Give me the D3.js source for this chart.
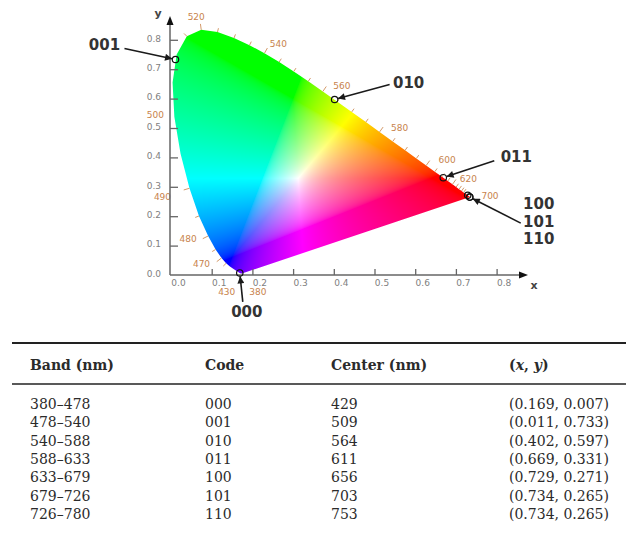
<!DOCTYPE html>
<html lang="en">
<head>
<meta charset="UTF-8">
<title>CIE 1931 chromaticity band codes</title>
<script src="https://d3js.org/d3.v7.min.js"></script>
<style>
  body { margin: 0; background: #fff; }
  svg { display: block; }
  .tick text { font-family: "DejaVu Sans", sans-serif; font-size: 9px; fill: #808080; }
  .tick line { stroke: #666; stroke-width: 1.3px; }
  .wl-label { font-family: "DejaVu Sans", sans-serif; font-size: 9px; fill: #c8834c; }
  .wl-tick { stroke: #d49a6a; stroke-width: 1px; }
  .code-label { font-family: "DejaVu Sans", sans-serif; font-size: 15px; font-weight: bold; fill: #333; }
  .axis-name { font-family: "DejaVu Sans", sans-serif; font-size: 11px; font-weight: bold; fill: #444; }
  .tbl { font-family: "DejaVu Serif", serif; font-size: 14px; fill: #2b2b2b; }
  .tbl-head { font-weight: bold; }
</style>
</head>
<body>
<div id="chart"></div>
<script>
// spectral locus (CIE 1931 2 deg), every 5 nm
const locusNm = [380,385,390,395,400,405,410,415,420,425,430,435,440,445,450,455,460,465,470,475,
                 480,485,490,495,500,505,510,515,520,525,530,535,540,545,550,555,560,565,570,575,
                 580,585,590,595,600,605,610,615,620,625,630,635,640,645,650,655,660,665,670,675,
                 680,690,700];
const locusX = [0.1741,0.1740,0.1738,0.1736,0.1733,0.1730,0.1726,0.1721,0.1714,0.1703,0.1689,0.1669,0.1644,0.1611,0.1566,0.1510,0.1440,0.1355,0.1241,0.1096,
                0.0913,0.0687,0.0454,0.0235,0.0082,0.0039,0.0139,0.0389,0.0743,0.1142,0.1547,0.1929,0.2296,0.2658,0.3016,0.3373,0.3731,0.4087,0.4441,0.4788,
                0.5125,0.5448,0.5752,0.6029,0.6270,0.6482,0.6658,0.6801,0.6915,0.7006,0.7079,0.7140,0.7190,0.7230,0.7260,0.7283,0.7300,0.7311,0.7320,0.7327,
                0.7334,0.7344,0.7347];
const locusY = [0.0050,0.0050,0.0049,0.0049,0.0048,0.0048,0.0048,0.0048,0.0051,0.0058,0.0069,0.0086,0.0109,0.0138,0.0177,0.0227,0.0297,0.0399,0.0578,0.0868,
                0.1327,0.2007,0.2950,0.4127,0.5384,0.6548,0.7502,0.8120,0.8338,0.8262,0.8059,0.7816,0.7543,0.7243,0.6923,0.6589,0.6245,0.5896,0.5547,0.5202,
                0.4866,0.4544,0.4242,0.3965,0.3725,0.3514,0.3340,0.3197,0.3083,0.2993,0.2920,0.2859,0.2809,0.2770,0.2740,0.2717,0.2700,0.2689,0.2680,0.2673,
                0.2666,0.2656,0.2653];

// wavelengths written along the locus
const markedNm = [520, 540, 560, 580, 600, 620, 700, 500, 490, 480, 470, 430, 380];

// axis ticks
const axisTicks = [0, 0.1, 0.2, 0.3, 0.4, 0.5, 0.6, 0.7, 0.8];

// table: bands, codes, centres and chromaticity points
const bands = ["380–478", "478–540", "540–588", "588–633", "633–679", "679–726", "726–780"];
const codes = ["000", "001", "010", "011", "100", "101", "110"];
const centers = [429, 509, 564, 611, 656, 703, 753];
const pointX = [0.169, 0.011, 0.402, 0.669, 0.729, 0.734, 0.734];
const pointY = [0.007, 0.733, 0.597, 0.331, 0.271, 0.265, 0.265];

// annotations on the diagram (codes, index of point they point at)
const annoCodes = [["001"], ["010"], ["011"], ["100", "101", "110"], ["000"]];
const annoPoint = [1, 2, 3, 5, 0];

// layout offsets (pixels, from the point)
const annoTextOff = [[-71, -15], [74, -17], [73, -21], [69, 7], [7, 39]];
const annoFromOff = [[-51, -11], [55, -15], [51, -17], [51, 26], [3, 29]];
const wlOff = {520: [-5, -13], 540: [14, -9], 560: [19, -5], 580: [20, -4], 600: [21, -5], 620: [16, -5],
               700: [20, -1], 500: [-19, -2], 490: [-27, 9], 480: [-20, 3], 470: [-20, 6], 430: [-13, 19], 380: [16, 18.5]};

const width = 626, height = 544;
const svg = d3.select("#chart").append("svg")
    .attr("width", width).attr("height", height);

const x = d3.scaleLinear().domain([0, 0.8]).range([171, 171 + 0.8 * 407]);
const y = d3.scaleLinear().domain([0, 0.8]).range([275, 275 - 0.8 * 294]);

const defs = svg.append("defs");
defs.append("marker").attr("id", "arrow")
    .attr("viewBox", "0 0 10 10").attr("refX", 10).attr("refY", 5)
    .attr("markerWidth", 9).attr("markerHeight", 7)
    .attr("markerUnits", "userSpaceOnUse").attr("orient", "auto")
  .append("path").attr("d", "M0,0 L10,5 L0,10 Z").attr("fill", "#1a1a1a");

// locus outline as a closed shape
const locusPts = locusNm.map((d, i) => [x(locusX[i]), y(locusY[i])]);
const locusPath = d3.line()(locusPts) + "Z";
defs.append("clipPath").attr("id", "locus-clip").append("path").attr("d", locusPath);

// colour fill: xy -> XYZ -> linear sRGB, clamp, pull a bit of white out, normalise to max
function xyToRgb(cx, cy) {
  const X = cx / cy, Y = 1, Z = (1 - cx - cy) / cy;
  let r = 3.2406 * X - 1.5372 * Y - 0.4986 * Z;
  let g = -0.9689 * X + 1.8758 * Y + 0.0415 * Z;
  let b = 0.0557 * X - 0.2040 * Y + 1.0570 * Z;
  r = Math.max(r, 0); g = Math.max(g, 0); b = Math.max(b, 0);
  const w = 0.3 * Math.min(r, g, b);
  r -= w; g -= w; b -= w;
  const m = Math.max(r, g, b) || 1;
  const enc = v => { v /= m; return 255 * (v <= 0.0031308 ? 12.92 * v : 1.055 * Math.pow(v, 1 / 2.4) - 0.055); };
  return [enc(r), enc(g), enc(b)];
}

const bx0 = 166, by0 = 24, bw = 312, bh = 256;
const canvas = document.createElement("canvas");
canvas.width = bw; canvas.height = bh;
const ctx = canvas.getContext("2d");
const img = ctx.createImageData(bw, bh);
for (let j = 0; j < bh; j++) {
  for (let i = 0; i < bw; i++) {
    const cx = x.invert(bx0 + i + 0.5), cy = Math.max(y.invert(by0 + j + 0.5), 0.002);
    const c = xyToRgb(cx, cy);
    const k = (j * bw + i) * 4;
    img.data[k] = c[0]; img.data[k + 1] = c[1]; img.data[k + 2] = c[2]; img.data[k + 3] = 255;
  }
}
ctx.putImageData(img, 0, 0);
svg.append("image")
    .attr("x", bx0).attr("y", by0).attr("width", bw).attr("height", bh)
    .attr("href", canvas.toDataURL())
    .attr("clip-path", "url(#locus-clip)");

// small ticks along the locus, pointing outward
const wp = [x(0.33), y(0.33)];
const tickNm = locusNm.filter(d => d >= 465 && d <= 640 && (d < 495 || d > 510));
const gWl = svg.append("g");
tickNm.forEach(nm => {
  const i = locusNm.indexOf(nm);
  const p = locusPts[i], a = locusPts[i - 1], b = locusPts[i + 1];
  let nx = -(b[1] - a[1]), ny = b[0] - a[0];
  const len = Math.hypot(nx, ny) || 1;
  nx /= len; ny /= len;
  if ((p[0] - wp[0]) * nx + (p[1] - wp[1]) * ny < 0) { nx = -nx; ny = -ny; }
  const L = markedNm.includes(nm) ? 6 : 4;
  gWl.append("line").attr("class", "wl-tick")
      .attr("x1", p[0]).attr("y1", p[1])
      .attr("x2", p[0] + nx * L).attr("y2", p[1] + ny * L);
});
gWl.selectAll("text").data(markedNm).join("text")
    .attr("class", "wl-label")
    .attr("text-anchor", "middle").attr("dominant-baseline", "central")
    .attr("x", d => locusPts[locusNm.indexOf(d)][0] + wlOff[d][0])
    .attr("y", d => locusPts[locusNm.indexOf(d)][1] + wlOff[d][1])
    .text(d => d);

// axes
const gx = svg.append("g").attr("transform", `translate(0,${y(0)})`)
    .call(d3.axisBottom(x).tickValues(axisTicks).tickFormat(d3.format(".1f")).tickSize(-6).tickPadding(5));
gx.select(".domain").remove();
gx.selectAll(".tick text").attr("dx", 7);
gx.selectAll(".tick").filter(d => d === 0).select("line").remove();

const gy = svg.append("g").attr("transform", `translate(${x(0) - 1},0)`)
    .call(d3.axisLeft(y).tickValues(axisTicks).tickFormat(d3.format(".1f")).tickSize(-8).tickPadding(9));
gy.select(".domain").remove();
gy.selectAll(".tick text").attr("dy", "0.15em");
gy.selectAll(".tick").filter(d => d === 0).select("line").remove();

const ax0 = x(0) - 1, ay0 = y(0);
svg.append("line").attr("x1", ax0).attr("y1", ay0).attr("x2", 521).attr("y2", ay0)
    .attr("stroke", "#666").attr("stroke-width", 1.5);
svg.append("path").attr("d", `M528,${ay0} L519,${ay0 - 3.5} L519,${ay0 + 3.5} Z`).attr("fill", "#111");
svg.append("line").attr("x1", ax0).attr("y1", ay0).attr("x2", ax0).attr("y2", 24)
    .attr("stroke", "#666").attr("stroke-width", 1.5);
svg.append("path").attr("d", `M${ax0},16 L${ax0 - 3.5},25 L${ax0 + 3.5},25 Z`).attr("fill", "#111");
svg.append("text").attr("class", "axis-name").attr("x", 534).attr("y", 289).attr("text-anchor", "middle").text("x");
svg.append("text").attr("class", "axis-name").attr("x", 158).attr("y", 17).attr("text-anchor", "middle").text("y");

// annotated points
const gAnno = svg.append("g");
annoCodes.forEach((lines, k) => {
  const pi = annoPoint[k];
  const px = x(pointX[pi]), py = y(pointY[pi]);
  const fx = px + annoFromOff[k][0], fy = py + annoFromOff[k][1];
  const d = Math.hypot(px - fx, py - fy), r = 3.5;
  gAnno.append("line")
      .attr("x1", fx).attr("y1", fy)
      .attr("x2", px - (px - fx) / d * r).attr("y2", py - (py - fy) / d * r)
      .attr("stroke", "#1a1a1a").attr("stroke-width", 1.6)
      .attr("marker-end", "url(#arrow)");
  const t = gAnno.append("text").attr("class", "code-label")
      .attr("text-anchor", "middle")
      .attr("x", px + annoTextOff[k][0]).attr("y", py + annoTextOff[k][1]);
  lines.forEach((s, li) => t.append("tspan")
      .attr("x", px + annoTextOff[k][0]).attr("dy", li === 0 ? "0.36em" : 17.5).text(s));
});
gAnno.selectAll("circle").data(pointX.map((d, i) => i)).join("circle")
    .attr("cx", i => x(pointX[i])).attr("cy", i => y(pointY[i])).attr("r", 3.2)
    .attr("fill", "none").attr("stroke", "#111").attr("stroke-width", 1.2);

// table
const colX = [30, 205, 331, 509];
const tbl = svg.append("g");
tbl.append("line").attr("x1", 12).attr("x2", width).attr("y1", 343).attr("y2", 343)
    .attr("stroke", "#222").attr("stroke-width", 2);
tbl.append("line").attr("x1", 12).attr("x2", width).attr("y1", 384).attr("y2", 384)
    .attr("stroke", "#222").attr("stroke-width", 1.3);
const headY = 370;
tbl.append("text").attr("class", "tbl tbl-head").attr("x", colX[0]).attr("y", headY).text("Band (nm)");
tbl.append("text").attr("class", "tbl tbl-head").attr("x", colX[1]).attr("y", headY).text("Code");
tbl.append("text").attr("class", "tbl tbl-head").attr("x", colX[2]).attr("y", headY).text("Center (nm)");
const hxy = tbl.append("text").attr("class", "tbl tbl-head").attr("x", colX[3]).attr("y", headY);
hxy.append("tspan").text("(");
hxy.append("tspan").attr("font-style", "italic").text("x");
hxy.append("tspan").text(", ");
hxy.append("tspan").attr("font-style", "italic").text("y");
hxy.append("tspan").text(")");

const rowY = d3.scaleLinear().domain([0, 6]).range([409, 519]);
const rows = tbl.selectAll("g.row").data(bands.map((d, i) => i)).join("g").attr("class", "row");
rows.append("text").attr("class", "tbl").attr("x", colX[0]).attr("y", i => rowY(i)).text(i => bands[i]);
rows.append("text").attr("class", "tbl").attr("x", colX[1]).attr("y", i => rowY(i)).text(i => codes[i]);
rows.append("text").attr("class", "tbl").attr("x", colX[2]).attr("y", i => rowY(i)).text(i => centers[i]);
rows.append("text").attr("class", "tbl").attr("x", colX[3]).attr("y", i => rowY(i))
    .text(i => `(${pointX[i].toFixed(3)}, ${pointY[i].toFixed(3)})`);
</script>
</body>
</html>
